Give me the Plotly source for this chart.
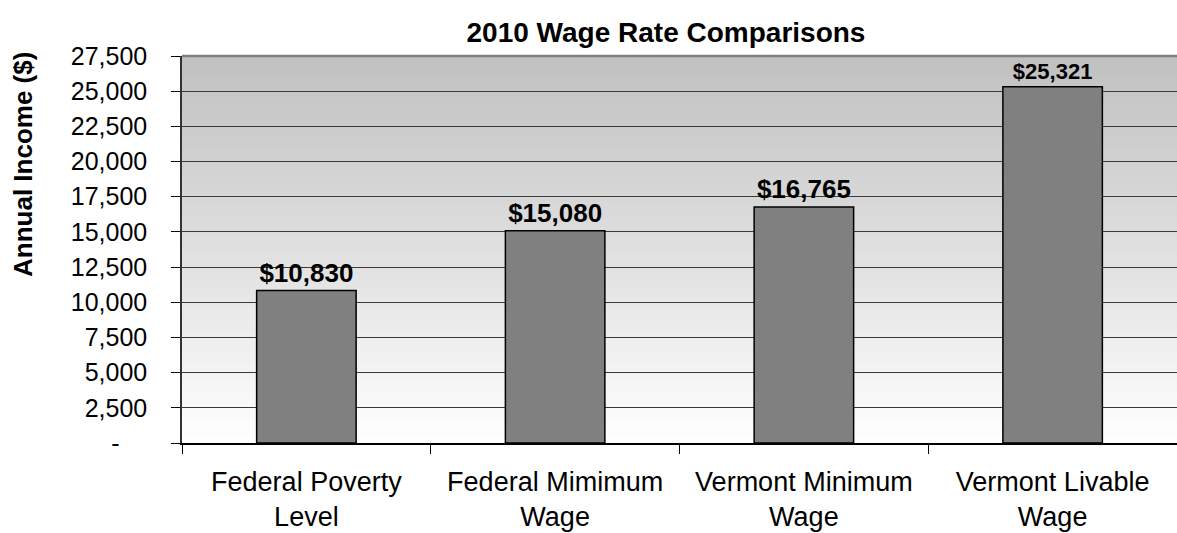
import plotly.graph_objects as go

categories = ["Federal Poverty<br>Level", "Federal Mimimum<br>Wage",
              "Vermont Minimum<br>Wage", "Vermont Livable<br>Wage"]
values = [10830, 15080, 16765, 25321]
value_labels = ["$10,830", "$15,080", "$16,765", "$25,321"]
label_sizes = [26, 26, 26, 22]
tick_vals = [0, 2500, 5000, 7500, 10000, 12500, 15000, 17500, 20000, 22500, 25000, 27500]
tick_text = ["-\u00a0\u00a0\u00a0\u00a0", "2,500", "5,000", "7,500", "10,000", "12,500",
             "15,000", "17,500", "20,000", "22,500", "25,000", "27,500"]

W, H = 1177, 533
ML, MR, MT, MB = 182, 0, 56, 90
FONT = "Liberation Sans, Arial, sans-serif"

fig = go.Figure()
fig.add_trace(go.Bar(
    x=categories, y=values,
    marker=dict(color="#808080", line=dict(color="#000000", width=1.5)),
    width=0.4,
    text=value_labels, textposition="outside",
    textfont=dict(family=FONT, size=label_sizes, color="#000000", weight="bold"),
    cliponaxis=False, constraintext="none",
))

# gradient background for the plot area
shapes = []
N = 90
top = (192, 192, 192)
for i in range(N):
    t = (i + 0.5) / N
    c = tuple(int(round(255 + (tc - 255) * t)) for tc in top)
    shapes.append(dict(type="rect", xref="paper", yref="paper",
                       x0=0, x1=1, y0=i / N, y1=(i + 1) / N + 0.002,
                       fillcolor=f"rgb{c}", line=dict(width=0), layer="below"))
shapes.append(dict(type="line", xref="paper", yref="paper", x0=0, x1=1, y0=1, y1=1,
                   line=dict(color="#808080", width=2.5), layer="above"))

fig.update_layout(
    width=W, height=H,
    margin=dict(l=ML, r=MR, t=MT, b=MB, pad=0),
    paper_bgcolor="white", plot_bgcolor="rgba(0,0,0,0)",
    showlegend=False,
    shapes=shapes,
    title=dict(text="<b>2010 Wage Rate Comparisons</b>", x=666 / W, xanchor="center",
               xref="container", y=1 - 32 / H, yanchor="middle", yref="container",
               font=dict(family=FONT, size=28, color="#000000")),
    annotations=[dict(text="<b>Annual Income ($)</b>", textangle=-90,
                      xref="paper", yref="paper",
                      x=(23 - ML) / (W - ML - MR), y=(H - MB - 165) / (H - MT - MB),
                      xanchor="center", yanchor="middle", showarrow=False,
                      font=dict(family=FONT, size=26, color="#000000"))],
    xaxis=dict(type="category", tickson="boundaries", ticks="outside", ticklen=9,
               tickcolor="#000000", tickwidth=1, showgrid=False,
               showline=True, linecolor="#000000", linewidth=1.5,
               tickfont=dict(family=FONT, size=27, color="#000000"),
               ticklabelstandoff=14, range=[-0.5, 3.5], fixedrange=True),
    yaxis=dict(range=[0, 27500], tickvals=tick_vals, ticktext=tick_text,
               ticks="outside", ticklen=9, tickcolor="#000000", tickwidth=1,
               showgrid=True, gridcolor="#3a3a3a", gridwidth=1,
               showline=True, linecolor="#333333", linewidth=1.5,
               zeroline=False,
               tickfont=dict(family=FONT, size=25, color="#000000"),
               ticklabelstandoff=19),
    bargap=0.6,
)

fig.write_html("out.html")
